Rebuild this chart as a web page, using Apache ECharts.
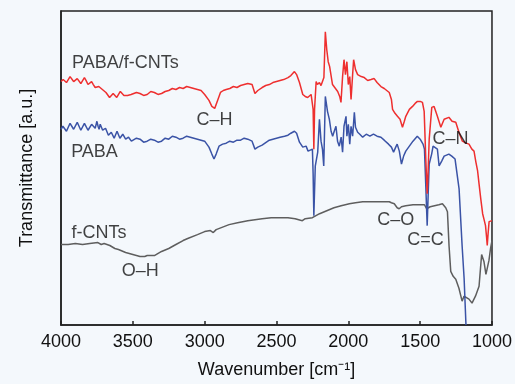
<!DOCTYPE html>
<html>
<head>
<meta charset="utf-8">
<script src="https://cdn.jsdelivr.net/npm/echarts@6/dist/echarts.min.js"></script>
<style>
html,body{margin:0;padding:0;background:#f4f8fc;}
#chart{width:515px;height:384px;}
</style>
</head>
<body>
<div id="chart"></div>
<script>
// Wavenumber ticks
const xTicks = [4000, 3500, 3000, 2500, 2000, 1500, 1000];

// PABA/f-CNTs (red) [wavenumber, transmittance a.u.]
const redSeries = [[4000,245],[3985,247],[3975,248],[3962,244],[3950,246],[3937,250],[3925,249],[3912,245],[3900,244],[3887,248],[3875,247],[3862,243],[3850,245],[3837,249],[3825,246],[3812,242],[3800,243],[3787,245],[3775,242],[3762,239],[3750,241],[3737,240],[3725,238],[3712,237],[3700,236],[3687,234],[3675,233],[3662,229],[3650,230],[3637,233],[3625,232],[3612,229],[3600,231],[3587,235],[3575,234],[3562,231],[3550,233],[3537,231],[3525,230],[3512,232],[3500,231],[3475,234],[3450,233],[3425,231],[3400,232],[3375,235],[3350,234],[3325,232],[3300,233],[3275,235],[3250,236],[3225,238],[3200,237],[3175,239],[3150,238],[3125,240],[3100,239],[3075,238],[3050,237],[3025,236],[3000,232],[2970,226],[2950,220],[2930,218],[2910,226],[2890,234],[2870,236],[2850,237],[2825,238],[2800,240],[2775,239],[2750,241],[2725,242],[2700,243],[2670,242],[2650,233],[2630,236],[2600,239],[2575,241],[2550,242],[2525,244],[2500,245],[2475,246],[2450,247],[2420,249],[2400,251],[2375,255],[2360,252],[2340,244],[2317,232],[2300,230],[2283,229],[2259,232],[2250,234],[2245,217],[2240,177],[2235,217],[2224,245],[2215,242],[2201,244],[2190,241],[2178,240],[2170,249],[2160,295],[2155,294],[2150,277],[2140,265],[2130,260],[2110,242],[2100,244],[2074,235],[2060,230],[2051,224],[2040,250],[2030,267],[2020,252],[2010,265],[2000,242],[1990,250],[1981,227],[1970,252],[1963,267],[1950,257],[1935,252],[1910,250],[1889,249],[1865,246],[1842,247],[1820,248],[1800,244],[1773,240],[1750,238],[1715,234],[1700,227],[1692,217],[1675,213],[1658,210],[1640,207],[1623,199],[1610,205],[1600,210],[1575,217],[1553,220],[1535,223],[1519,225],[1500,225],[1484,224],[1472,215],[1460,164],[1451,132],[1444,157],[1437,187],[1419,219],[1403,220],[1380,210],[1356,199],[1333,207],[1300,209],[1278,205],[1252,204],[1230,194],[1206,185],[1180,183],[1160,182],[1140,177],[1125,175],[1112,164],[1100,155],[1090,142],[1078,127],[1065,112],[1055,106],[1045,100],[1038,89],[1033,80],[1027,92],[1020,104],[1010,106],[1000,105]];

// PABA (blue)
const blueSeries = [[4000,197],[3987,200],[3975,201],[3962,195],[3950,196],[3937,203],[3925,202],[3912,197],[3900,199],[3887,204],[3875,203],[3862,196],[3850,198],[3837,203],[3825,201],[3812,196],[3800,197],[3787,202],[3775,200],[3762,198],[3750,205],[3742,200],[3735,197],[3727,202],[3720,200],[3710,196],[3700,194],[3690,198],[3680,196],[3670,191],[3660,189],[3650,194],[3640,193],[3630,188],[3620,190],[3610,195],[3600,193],[3590,188],[3580,188],[3570,192],[3560,191],[3550,187],[3540,186],[3530,189],[3520,188],[3510,185],[3500,185],[3475,188],[3450,187],[3425,184],[3400,185],[3375,187],[3350,186],[3325,184],[3300,185],[3275,188],[3250,187],[3225,190],[3200,189],[3175,187],[3150,188],[3125,190],[3100,189],[3075,188],[3050,187],[3025,186],[3000,185],[2970,179],[2950,172],[2935,167],[2920,172],[2900,180],[2875,182],[2850,183],[2825,185],[2800,184],[2775,186],[2750,186],[2725,188],[2700,187],[2670,185],[2650,177],[2630,179],[2600,181],[2570,184],[2550,186],[2525,187],[2500,188],[2475,189],[2444,190],[2420,191],[2400,193],[2375,195],[2360,193],[2340,184],[2317,179],[2294,180],[2280,175],[2271,177],[2250,177],[2245,152],[2240,110],[2236,112],[2230,160],[2213,174],[2201,207],[2190,185],[2180,177],[2171,160],[2160,230],[2155,232],[2145,215],[2132,207],[2120,195],[2109,190],[2098,195],[2086,200],[2075,185],[2063,180],[2050,189],[2040,174],[2030,200],[2016,210],[2010,190],[2000,202],[1990,182],[1981,200],[1970,190],[1958,214],[1950,199],[1935,194],[1920,192],[1900,189],[1875,192],[1850,190],[1825,192],[1800,190],[1773,189],[1750,186],[1720,182],[1700,179],[1685,174],[1670,179],[1660,182],[1645,175],[1630,162],[1615,170],[1600,175],[1580,179],[1550,185],[1520,190],[1500,187],[1480,182],[1470,177],[1460,137],[1451,100],[1444,132],[1437,162],[1420,172],[1410,180],[1400,182],[1380,177],[1368,160],[1350,165],[1333,170],[1300,172],[1280,170],[1257,167],[1229,137],[1208,80],[1194,47],[1181,0]];

// f-CNTs (grey)
const greySeries = [[4000,81],[3950,81],[3900,82],[3850,81],[3800,82],[3743,83],[3720,81],[3700,82],[3660,80],[3625,77],[3600,76],[3550,73],[3500,71],[3450,69],[3417,69],[3400,70],[3347,70],[3300,74],[3250,77],[3200,81],[3150,85],[3118,87],[3050,91],[3000,94],[2960,95],[2940,93],[2920,96],[2884,98],[2830,101],[2771,103],[2700,105],[2650,106],[2600,107],[2537,108],[2480,108],[2420,108],[2370,107],[2320,105],[2300,107],[2250,108],[2200,112],[2150,115],[2100,118],[2050,120],[1993,122],[1950,123],[1900,124],[1854,124],[1800,124],[1750,124],[1715,124],[1700,123],[1680,122],[1660,118],[1646,117],[1630,119],[1600,120],[1550,121],[1500,121],[1470,121],[1455,117],[1445,118],[1430,119],[1400,120],[1370,121],[1345,122],[1322,118],[1310,114],[1299,80],[1287,54],[1270,49],[1252,46],[1230,37],[1208,24],[1195,29],[1183,30],[1160,26],[1139,22],[1115,29],[1090,39],[1080,57],[1072,71],[1056,64],[1042,51],[1030,59],[1021,65],[1010,77],[1000,85]];

// Annotations
const noteTexts = ['PABA/f-CNTs', 'PABA', 'f-CNTs', 'C\u2013H', 'C\u2013N', 'C\u2013O', 'C=C', 'O\u2013H'];
const noteX = [3552, 3767, 3736, 2931, 1288, 1670, 1462, 3448];
const noteY = [264, 174, 93, 206, 187, 106, 86, 54];

const FONT = "'Liberation Sans', Arial, Helvetica, sans-serif";
const TXT = '#111';

const chart = echarts.init(document.getElementById('chart'), null, {renderer: 'canvas'});
const lineBase = {type: 'line', showSymbol: false, symbol: 'none', smooth: false, animation: false, clip: true};

chart.setOption({
  backgroundColor: '#f4f8fc',
  animation: false,
  grid: {left: 61, right: 22, top: 11, bottom: 57, show: true, borderColor: '#222', borderWidth: 1.5, backgroundColor: 'transparent'},
  xAxis: {
    type: 'value', inverse: true, min: 1000, max: 4000, interval: 500,
    name: 'Wavenumber [cm\u207B\u00B9]', nameLocation: 'middle', nameGap: 36,
    nameTextStyle: {fontFamily: FONT, fontSize: 18, color: TXT},
    axisLine: {show: true, lineStyle: {color: '#222', width: 1.5}},
    axisTick: {show: true, inside: true, length: 4, lineStyle: {color: '#222', width: 1.5}},
    axisLabel: {fontFamily: FONT, fontSize: 18, color: TXT, margin: 8,
      formatter: v => (xTicks.indexOf(v) >= 0 ? String(v) : '')},
    splitLine: {show: false}
  },
  yAxis: {
    type: 'value', min: 0, max: 316,
    name: 'Transmittance [a.u.]', nameLocation: 'middle', nameGap: 25,
    nameTextStyle: {fontFamily: FONT, fontSize: 18, color: TXT},
    axisLine: {show: true, lineStyle: {color: '#222', width: 1.5}},
    axisTick: {show: false}, axisLabel: {show: false}, splitLine: {show: false}
  },
  series: [
    Object.assign({}, lineBase, {name: 'f-CNTs', data: greySeries, lineStyle: {color: '#5e5e5e', width: 1.5}, z: 2}),
    Object.assign({}, lineBase, {name: 'PABA', data: blueSeries, lineStyle: {color: '#3a53a6', width: 1.5}, z: 3}),
    Object.assign({}, lineBase, {name: 'PABA/f-CNTs', data: redSeries, lineStyle: {color: '#ee2f2f', width: 1.5}, z: 4}),
    {
      type: 'scatter', symbolSize: 1, itemStyle: {color: 'rgba(0,0,0,0)'}, z: 10, animation: false,
      data: noteTexts.map((t, i) => ({name: t, value: [noteX[i], noteY[i]]})),
      label: {show: true, position: 'inside', formatter: p => p.name,
        fontFamily: FONT, fontSize: 18, color: TXT}
    }
  ]
});
</script>
</body>
</html>
